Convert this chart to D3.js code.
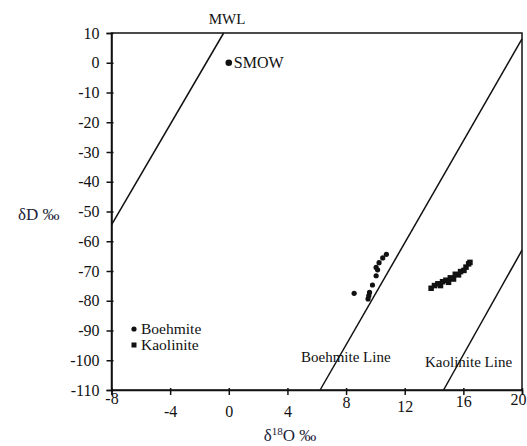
<!DOCTYPE html>
<html>
<head>
<meta charset="utf-8">
<script src="https://cdn.jsdelivr.net/npm/d3@7"></script>
<style>
  body { margin: 0; background: #fff; }
  svg { display: block; }
  text { font-family: "Liberation Serif", "Times New Roman", serif; fill: #111; }
</style>
</head>
<body>
<svg id="chart" width="527" height="446"></svg>
<script>
// ---- data ----
const xTicks = [-8, -4, 0, 4, 8, 12, 16, 20];
const yTicks = [10, 0, -10, -20, -30, -40, -50, -60, -70, -80, -90, -100, -110];

const boehmiteX = [8.55, 9.5, 9.55, 9.6, 9.8, 10.05, 10.15, 10.05, 10.25, 10.5, 10.75];
const boehmiteY = [-77.5, -79.4, -78.3, -77.2, -74.7, -71.6, -69.6, -68.8, -67.2, -65.6, -64.4];

const kaoliniteX = [13.8, 14.03, 14.26, 14.44, 14.58, 14.81, 14.99, 15.11, 15.33, 15.45, 15.67, 15.81, 16.04, 16.18, 16.36, 16.45];
const kaoliniteY = [-75.8, -74.9, -74.3, -74.9, -73.6, -73.1, -73.8, -72.3, -72.7, -71.1, -71.3, -70.2, -69.8, -68.7, -67.6, -67.1];

const smow = [0, 0];

// reference lines: [x, y] end points
const mwlLine = [[-8, -54.5], [-0.35, 10]];
const boehmiteLine = [[6.23, -110], [20, 8]];
const kaoliniteLine = [[14.65, -110], [20, -63]];

// ---- layout ----
const svg = d3.select("#chart");
const x = d3.scaleLinear().domain([-8, 20]).range([111.5, 522]);
const y = d3.scaleLinear().domain([-110, 10]).range([390, 33]);
const ink = "#111";
const fmt = d => String(d); // plain hyphen minus, as in the original

// frame
svg.append("rect")
  .attr("x", x(-8)).attr("y", y(10))
  .attr("width", x(20) - x(-8)).attr("height", y(-110) - y(10))
  .attr("fill", "none").attr("stroke", ink).attr("stroke-width", 1.5);

// axes
const yAxis = svg.append("g")
  .attr("transform", `translate(${x(-8)},0)`)
  .call(d3.axisLeft(y).tickValues(yTicks).tickSize(5).tickPadding(7).tickFormat(fmt));
const xAxis = svg.append("g")
  .attr("transform", `translate(0,${y(-110)})`)
  .call(d3.axisBottom(x).tickValues(xTicks).tickSize(5).tickPadding(8).tickFormat(fmt));

[xAxis, yAxis].forEach(g => {
  g.select(".domain").attr("stroke", ink).attr("stroke-width", 1.5);
  g.selectAll(".tick line").attr("stroke", ink).attr("stroke-width", 1.5);
  g.selectAll(".tick text")
    .attr("font-family", "Liberation Serif, Times New Roman, serif")
    .attr("font-size", 16).attr("fill", ink);
});
yAxis.selectAll(".tick line").attr("x1", 2);
xAxis.selectAll(".tick line").attr("y1", -2);

// slight stagger of x tick labels, as in the scanned original
const xLabelShiftY = [-10, 3, 3, 3, -6, -2, -7, -9];
const xLabelShiftX = [0, 0, 0, 0, 0, 0, 0, -4];
xAxis.selectAll(".tick text")
  .attr("transform", (d, i) => `translate(${xLabelShiftX[i]},${xLabelShiftY[i]})`);

// lines
const line = d3.line().x(d => x(d[0])).y(d => y(d[1]));
[mwlLine, boehmiteLine, kaoliniteLine].forEach(l => {
  svg.append("path").attr("d", line(l))
    .attr("fill", "none").attr("stroke", ink).attr("stroke-width", 1.5);
});

// boehmite points
svg.append("g").selectAll("circle")
  .data(boehmiteX.map((v, i) => [v, boehmiteY[i]]))
  .join("circle")
  .attr("cx", d => x(d[0])).attr("cy", d => y(d[1])).attr("r", 2.6).attr("fill", ink);

// kaolinite points
const sq = 5.5;
svg.append("g").selectAll("rect")
  .data(kaoliniteX.map((v, i) => [v, kaoliniteY[i]]))
  .join("rect")
  .attr("x", d => x(d[0]) - sq / 2).attr("y", d => y(d[1]) - sq / 2)
  .attr("width", sq).attr("height", sq).attr("fill", ink);

// SMOW
svg.append("circle").attr("cx", x(smow[0])).attr("cy", y(smow[1])).attr("r", 3.3).attr("fill", ink);
svg.append("text").attr("x", x(smow[0]) + 5).attr("y", y(smow[1]) + 5)
  .attr("font-size", 16).text("SMOW");

// line labels
svg.append("text").attr("x", 227).attr("y", 24).attr("text-anchor", "middle")
  .attr("font-size", 15).text("MWL");
svg.append("text").attr("x", 301).attr("y", 362).attr("font-size", 15).text("Boehmite Line");
svg.append("text").attr("x", 425).attr("y", 367).attr("font-size", 15).text("Kaolinite Line");

// legend
svg.append("circle").attr("cx", 134).attr("cy", 329).attr("r", 2.6).attr("fill", ink);
svg.append("text").attr("x", 141).attr("y", 334).attr("font-size", 15.5).text("Boehmite");
svg.append("rect").attr("x", 131.5).attr("y", 342.5).attr("width", 5).attr("height", 5).attr("fill", ink);
svg.append("text").attr("x", 141).attr("y", 350).attr("font-size", 15.5).text("Kaolinite");

// axis titles
const titleColor = "#1c2238";
svg.append("text").attr("x", 18).attr("y", 220).attr("font-size", 17)
  .style("fill", titleColor).text("δD ‰");
const xt = svg.append("text").attr("x", 290).attr("y", 441).attr("text-anchor", "middle")
  .attr("font-size", 17).style("fill", titleColor);
xt.append("tspan").text("δ");
xt.append("tspan").attr("dy", -6).attr("font-size", 11).text("18");
xt.append("tspan").attr("dy", 6).text("O ‰");
</script>
</body>
</html>
